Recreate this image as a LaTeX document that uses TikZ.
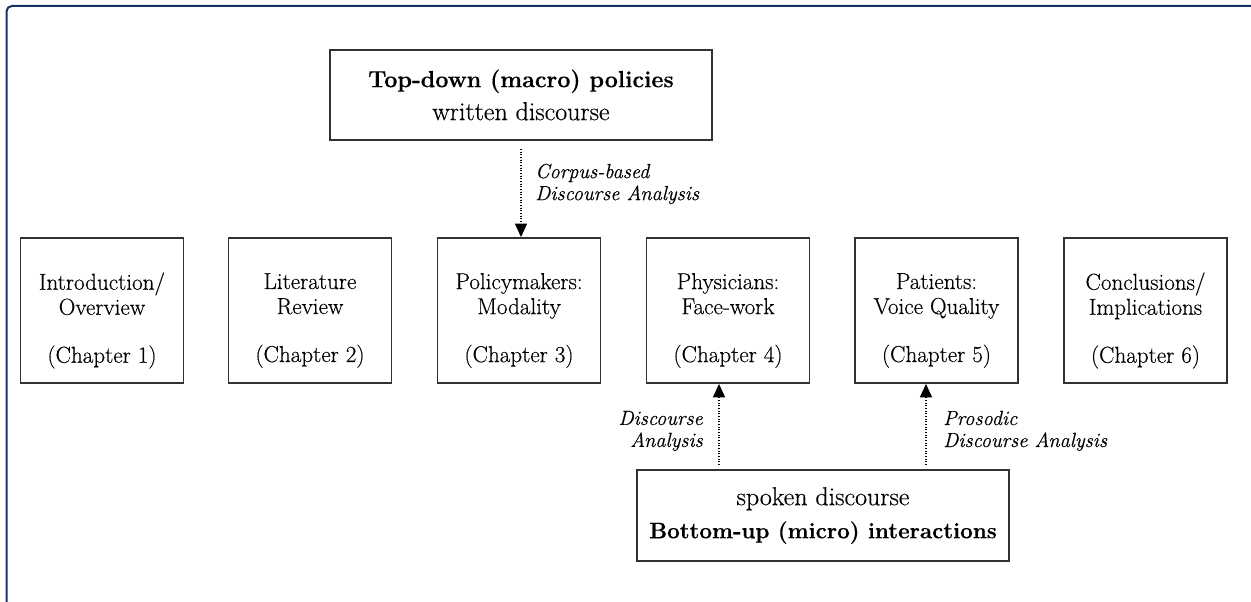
\documentclass[tikz,border=0pt]{standalone}
\usepackage{fontspec}
\setmainfont{Latin Modern Roman}[FakeBold=0.4]
\usetikzlibrary{arrows.meta}
\definecolor{frameblue}{RGB}{22,50,100}
\definecolor{boxgray}{RGB}{50,50,50}
\tikzset{
 chap/.style={draw=boxgray, line width=1.4pt, minimum width=122.25pt, minimum height=108.75pt, inner sep=0pt},
 chaptext/.style={align=center, font=\fontsize{17.3}{18.75}\selectfont, inner sep=0pt},
 bigbox/.style={draw=boxgray, line width=1.4pt, inner sep=0pt, align=center, font=\fontsize{19.5}{24.75}\selectfont},
 lbl/.style={font=\fontsize{15.3}{16.5}\selectfont\itshape, inner sep=0pt},
 arr/.style={line width=0.9pt, dash pattern=on 0.9pt off 1.1pt, -{Triangle[width=9pt,length=10pt]}}
}
\begin{document}
\begin{tikzpicture}[x=0.75pt,y=-0.75pt]
\useasboundingbox (0,0) rectangle (1251,602);
\draw[frameblue, line width=1.5pt, rounded corners=4pt] (6.5,602) -- (6.5,6) -- (1251,6);

% top and bottom boxes
\node[bigbox, minimum width=286.5pt, minimum height=67.5pt] (top) at (521,95)
  {{\fontsize{17.5}{24.75}\selectfont\bfseries Top-down (macro) policies}\\written discourse};
\node[bigbox, minimum width=279pt, minimum height=68.25pt] (bot) at (823,515.5)
  {spoken discourse\\{\fontsize{16.8}{24.75}\selectfont\bfseries Bottom-up (micro) interactions}};

% chapter boxes
\node[chap] (c1) at (102,310.5) {};
\node[chap] (c2) at (310,310.5) {};
\node[chap] (c3) at (519,310.5) {};
\node[chap] (c4) at (728,310.5) {};
\node[chap] (c5) at (936.5,310.5) {};
\node[chap] (c6) at (1145.5,310.5) {};
\node[chaptext] (t1) at ([yshift=-7.5pt]c1.center) {Introduction/\\Overview\\[17.25pt](Chapter 1)};
\node[chaptext] (t2) at ([yshift=-7.5pt]c2.center) {Literature\\Review\\[17.25pt](Chapter 2)};
\node[chaptext] (t3) at ([yshift=-7.5pt]c3.center) {Policymakers:\\Modality\\[17.25pt](Chapter 3)};
\node[chaptext] (t4) at ([yshift=-7.5pt]c4.center) {Physicians:\\Face-work\\[17.25pt](Chapter 4)};
\node[chaptext] (t5) at ([yshift=-7.5pt]c5.center) {Patients:\\Voice Quality\\[17.25pt](Chapter 5)};
\node[chaptext] (t6) at ([yshift=-7.5pt]c6.center) {Conclusions/\\Implications\\[17.25pt](Chapter 6)};

% arrows
\coordinate (e3) at (c3.north -| top.south);
\draw[arr] ([yshift=-6pt]top.south) -- (e3);
\coordinate (e4) at ([xshift=-6.75pt]c4.south);
\draw[arr] ([yshift=3pt]bot.north -| e4) -- (e4);
\coordinate (e5) at ([xshift=-7.9pt]c5.south);
\draw[arr] ([yshift=3pt]bot.north -| e5) -- (e5);

% labels
\node[lbl, anchor=west, align=left] (l1) at (535,184) {Corpus-based\\Discourse Analysis};
\node[lbl, anchor=east, align=right] (l2) at (703,431) {Discourse\\Analysis};
\node[lbl, anchor=west, align=left] (l3) at (943,431) {Prosodic\\Discourse Analysis};
\end{tikzpicture}
\end{document}
